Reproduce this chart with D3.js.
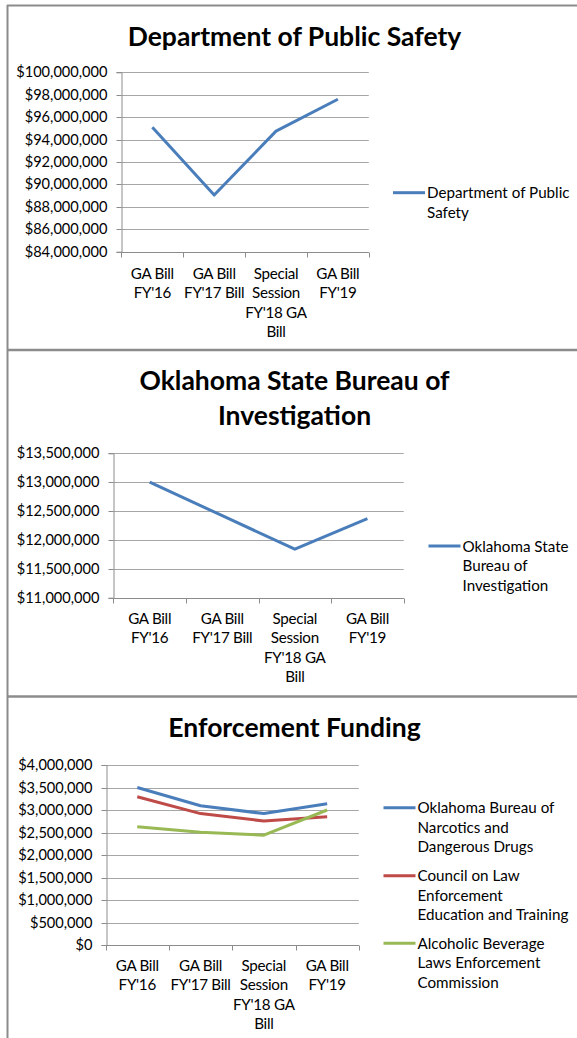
<!DOCTYPE html>
<html><head><meta charset="utf-8">
<script src="https://cdn.jsdelivr.net/npm/d3@7"></script>
<style>
html,body{margin:0;padding:0;background:#fff;}
svg{display:block;}
text{font-family:Lato,"Open Sans",sans-serif;fill:#000;}
</style></head>
<body>
<svg id="c" width="577" height="1038"></svg>
<script>
const categories = [["GA Bill","FY'16"],["GA Bill","FY'17 Bill"],["Special","Session","FY'18 GA","Bill"],["GA Bill","FY'19"]];

const dpsTitle = ["Department of Public Safety"];
const dpsSeries = ["Department of Public Safety"];
const dpsValues = [95100000, 89050000, 94750000, 97600000];
const dpsTicks = [84000000,86000000,88000000,90000000,92000000,94000000,96000000,98000000,100000000];

const osbiTitle = ["Oklahoma State Bureau of","Investigation"];
const osbiSeries = ["Oklahoma State Bureau of Investigation"];
const osbiValues = [13000000, 12420000, 11840000, 12370000];
const osbiTicks = [11000000,11500000,12000000,12500000,13000000,13500000];

const enfTitle = ["Enforcement Funding"];
const enfSeries = ["Oklahoma Bureau of Narcotics and Dangerous Drugs","Council on Law Enforcement Education and Training","Alcoholic Beverage Laws Enforcement Commission"];
const obnValues = [3500000, 3095000, 2920000, 3140000];
const cleetValues = [3295000, 2920000, 2755000, 2850000];
const ablecValues = [2630000, 2505000, 2440000, 3000000];
const enfTicks = [0,500000,1000000,1500000,2000000,2500000,3000000,3500000,4000000];

const colors = ["#4a7ebb","#be4b48","#98b954"];
const fmt = v => "$" + d3.format(",")(v);

const svg = d3.select("#c");

const borderColor = "#8c8c8c";
svg.append("line").attr("x1",7.5).attr("x2",7.5).attr("y1",5).attr("y2",1038).attr("stroke",borderColor).attr("stroke-width",2);
[[5.5,2],[350,2.5],[696.5,2.5]].forEach(([y,w])=>{
  svg.append("line").attr("x1",7).attr("x2",577).attr("y1",y).attr("y2",y).attr("stroke",borderColor).attr("stroke-width",w);
});

const labelSize = 15.2;

function drawChart(cfg){
  const g = svg.append("g");
  cfg.title.forEach((t,i)=>{
    g.append("text").attr("x",cfg.titleX).attr("y",cfg.titleY + i*35)
      .attr("text-anchor","middle").attr("font-weight","bold").attr("font-size",26.5).text(t);
  });
  const y = d3.scaleLinear().domain([cfg.ticks[0], cfg.ticks[cfg.ticks.length-1]]).range([cfg.bottom, cfg.top]);
  const x = d3.scaleBand().domain(d3.range(categories.length)).range([cfg.left, cfg.right]);
  g.append("g").selectAll("line").data(cfg.ticks).join("line")
    .attr("x1",cfg.left).attr("x2",cfg.right)
    .attr("y1",d=>Math.round(y(d))+0.5).attr("y2",d=>Math.round(y(d))+0.5)
    .attr("stroke","#a6a6a6").attr("stroke-width",1.2);
  const ya = g.append("g").attr("transform",`translate(${Math.round(cfg.left)+0.5},0)`)
    .call(d3.axisLeft(y).tickValues(cfg.ticks).tickFormat(fmt).tickSize(5).tickPadding(9));
  ya.select(".domain").attr("stroke","#8c8c8c");
  ya.selectAll(".tick line").attr("stroke","#8c8c8c");
  ya.selectAll(".tick text").attr("font-size",14.6).attr("font-family","Lato, sans-serif").attr("fill","#000");
  ya.selectAll(".tick").attr("transform",d=>`translate(0,${Math.round(y(d))+0.5})`);
  const xa = g.append("g").attr("transform",`translate(0,${Math.round(cfg.bottom)+0.5})`);
  xa.append("line").attr("x1",cfg.left).attr("x2",cfg.right).attr("stroke","#8c8c8c");
  const bounds = d3.range(categories.length+1).map(i=> i<categories.length ? x(i) : x(i-1)+x.bandwidth());
  xa.selectAll("line.tk").data(bounds).join("line").attr("class","tk")
    .attr("x1",d=>Math.round(d)+0.5).attr("x2",d=>Math.round(d)+0.5).attr("y1",0).attr("y2",5).attr("stroke","#8c8c8c");
  categories.forEach((lines,i)=>{
    const t = xa.append("text").attr("text-anchor","middle").attr("font-size",labelSize).attr("letter-spacing",-0.3);
    lines.forEach((l,j)=>{
      t.append("tspan").attr("x",x(i)+x.bandwidth()/2).attr("y",cfg.xLabelY + j*19.6 - Math.round(cfg.bottom)).text(l);
    });
  });
  const line = d3.line().x((d,i)=>x(i)+x.bandwidth()/2).y(d=>y(d));
  cfg.series.forEach((s,k)=>{
    g.append("path").datum(s.values).attr("d",line).attr("fill","none")
      .attr("stroke",colors[k]).attr("stroke-width",3).attr("stroke-linejoin","round");
  });
  cfg.series.forEach((s,k)=>{
    const ly = cfg.legendY[k];
    g.append("line").attr("x1",cfg.legendX).attr("x2",cfg.legendX+32).attr("y1",ly).attr("y2",ly)
      .attr("stroke",colors[k]).attr("stroke-width",3);
    const t = g.append("text").attr("font-size",labelSize);
    s.label.forEach((l,j)=>{
      t.append("tspan").attr("x",cfg.legendX+34).attr("y",ly + 5.5 + j*19.6).text(l);
    });
  });
}

drawChart({title:dpsTitle,titleX:294.5,titleY:46,ticks:dpsTicks,top:72.3,bottom:251.7,left:121.4,right:368.8,
  xLabelY:278,legendX:393,legendY:[192.7],
  series:[{values:dpsValues,label:["Department of Public","Safety"]}]});

drawChart({title:osbiTitle,titleX:294.5,titleY:390,ticks:osbiTicks,top:453.3,bottom:597.7,left:113.4,right:403.7,
  xLabelY:623,legendX:428.5,legendY:[546],
  series:[{values:osbiValues,label:["Oklahoma State","Bureau of","Investigation"]}]});

drawChart({title:enfTitle,titleX:294.5,titleY:737,ticks:enfTicks,top:765,bottom:945,left:105.6,right:358.8,
  xLabelY:970,legendX:383.5,legendY:[807.7,875.7,943.3],
  series:[{values:obnValues,label:["Oklahoma Bureau of","Narcotics and","Dangerous Drugs"]},
          {values:cleetValues,label:["Council on Law","Enforcement","Education and Training"]},
          {values:ablecValues,label:["Alcoholic Beverage","Laws Enforcement","Commission"]}]});
</script>
</body></html>
